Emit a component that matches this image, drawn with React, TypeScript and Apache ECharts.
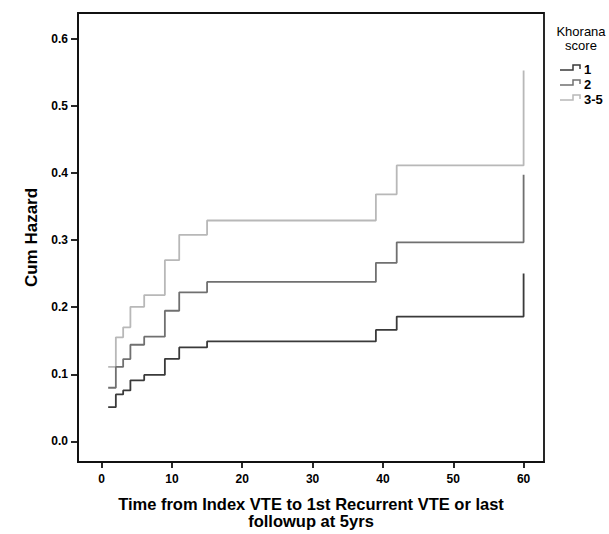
import React, { useEffect, useRef } from "react";
import * as echarts from "echarts";

// Event times (months) shared by all three curves
const times = [0.94, 2.03, 3.07, 4.1, 6.06, 9.0, 11.04, 15.0, 39.0, 41.96, 60];
// Cumulative hazard by Khorana score group
const score1 = [0.051, 0.07, 0.076, 0.091, 0.099, 0.123, 0.14, 0.149, 0.166, 0.186, 0.25];
const score2 = [0.08, 0.111, 0.1226, 0.144, 0.156, 0.1946, 0.222, 0.2375, 0.266, 0.2965, 0.397];
const score35 = [0.111, 0.155, 0.17, 0.2005, 0.218, 0.27, 0.3077, 0.329, 0.368, 0.411, 0.5525];

const groupNames = ["1", "2", "3-5"];
const groupColors = ["#3a3a3a", "#707070", "#b8b8b8"];
const xTicks = [0, 10, 20, 30, 40, 50, 60];
const yTicks = [0, 0.1, 0.2, 0.3, 0.4, 0.5, 0.6];

const FONT = "'Liberation Sans', Arial, sans-serif";

export default function App() {
  const ref = useRef<HTMLDivElement>(null);
  useEffect(() => {
    if (!ref.current) return;
    const chart = echarts.init(ref.current, undefined, { renderer: "svg" });
    const seriesData = [score1, score2, score35];
    const legendY = [68, 83, 98];
    const legendGraphics: any[] = [
      {
        type: "text",
        x: 581,
        y: 31,
        style: { text: "Khorana", font: `13px ${FONT}`, fill: "#000", align: "center", verticalAlign: "middle" },
      },
      {
        type: "text",
        x: 581,
        y: 45,
        style: { text: "score", font: `13px ${FONT}`, fill: "#000", align: "center", verticalAlign: "middle" },
      },
    ];
    groupNames.forEach((n, i) => {
      const y = legendY[i];
      legendGraphics.push({
        type: "polyline",
        shape: { points: [[560, y + 2], [573, y + 2], [573, y - 3], [580, y - 3], [580, y + 1]] },
        style: { stroke: groupColors[i], lineWidth: 1.5, fill: "none" },
      });
      legendGraphics.push({
        type: "text",
        x: 584,
        y: y + 1,
        style: { text: n, font: `bold 13px ${FONT}`, fill: "#000", align: "left", verticalAlign: "middle" },
      });
    });

    chart.setOption({
      animation: false,
      backgroundColor: "#fff",
      textStyle: { fontFamily: FONT },
      grid: {
        left: 78,
        right: 65,
        top: 13,
        bottom: 68,
        show: true,
        borderColor: "#111",
        borderWidth: 1.8,
        backgroundColor: "transparent",
      },
      xAxis: {
        type: "value",
        min: -3.35,
        max: 62.9,
        name: "Time from Index VTE to 1st Recurrent VTE or last\nfollowup at 5yrs",
        nameLocation: "middle",
        nameGap: 33,
        nameTextStyle: { fontFamily: FONT, fontWeight: "bold", fontSize: 16.5, lineHeight: 17, color: "#000" },
        axisLine: { show: true, onZero: false, lineStyle: { color: "#111", width: 1.8 } },
        axisTick: { show: true, length: 6, customValues: xTicks, lineStyle: { color: "#111", width: 1.8 } },
        axisLabel: {
          customValues: xTicks,
          margin: 11,
          fontFamily: FONT,
          fontWeight: "bold",
          fontSize: 12,
          color: "#000",
        },
        splitLine: { show: false },
      },
      yAxis: {
        type: "value",
        min: -0.0306,
        max: 0.638,
        name: "Cum Hazard",
        nameLocation: "middle",
        nameGap: 37,
        nameTextStyle: { fontFamily: FONT, fontWeight: "bold", fontSize: 17, color: "#000" },
        axisLine: { show: true, onZero: false, lineStyle: { color: "#111", width: 1.8 } },
        axisTick: { show: true, length: 7, customValues: yTicks, lineStyle: { color: "#111", width: 1.8 } },
        axisLabel: {
          customValues: yTicks,
          margin: 10,
          fontFamily: FONT,
          fontWeight: "bold",
          fontSize: 12,
          color: "#000",
          formatter: (v: number) => v.toFixed(1),
        },
        splitLine: { show: false },
      },
      series: groupNames.map((n, i) => ({
        name: n,
        type: "line",
        step: "end",
        symbol: "none",
        data: times.map((t, j) => [t, seriesData[i][j]]),
        lineStyle: { color: groupColors[i], width: 1.8 },
        itemStyle: { color: groupColors[i] },
        z: 3 - i,
      })),
      graphic: legendGraphics,
    });
    return () => chart.dispose();
  }, []);
  return (
    <div
      ref={ref}
      style={{ position: "fixed", left: 0, top: 0, width: 609, height: 534, background: "#fff" }}
    />
  );
}
